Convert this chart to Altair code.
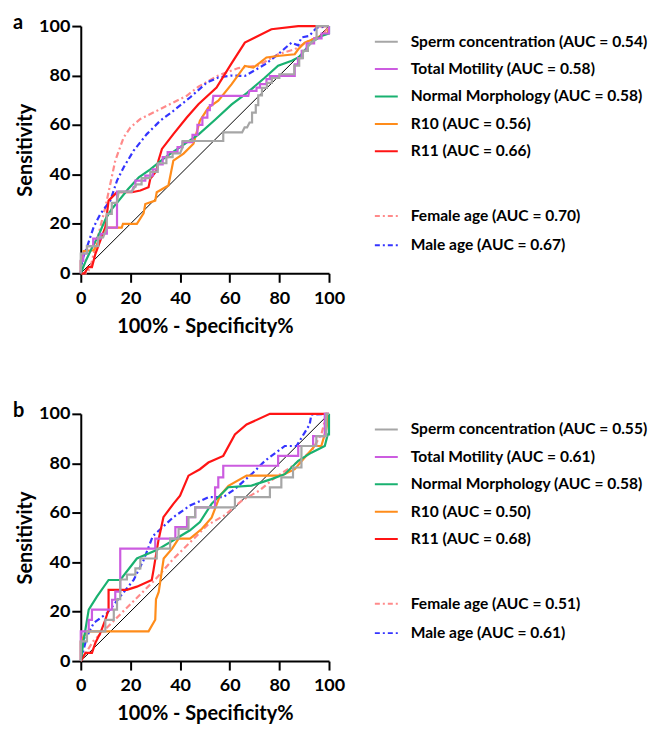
import altair as alt
import pandas as pd

# ---------------- data ----------------
SERIES = ["Sperm concentration", "Total Motility", "Normal Morphology", "R10", "R11",
          "Female age", "Male age"]
COLORS = ["#a6a6a6", "#cc5ce0", "#19b170", "#ff8c1a", "#ff1414", "#ff8a8a", "#3434ff"]
DASHED = [False, False, False, False, False, True, True]

AUC_A = ["0.54", "0.58", "0.58", "0.56", "0.66", "0.70", "0.67"]
AUC_B = ["0.55", "0.61", "0.58", "0.50", "0.68", "0.51", "0.61"]

TICKS = [0, 20, 40, 60, 80, 100]

# Panel a
A_SPERM_X = [0, 0, 2.5, 2.5, 7, 7, 9, 10.5, 10.5, 12.5, 12.5, 14.5, 15.3, 20.5, 22.5, 24.5, 24.5, 28, 28, 31, 31,
             34.5, 34.5, 37, 37, 40, 41, 41, 57.4, 57.4, 65, 66, 67, 68, 69, 69, 70.5, 70.5, 71.5, 71.5, 73, 73, 75,
             75, 77, 77, 80, 80, 86, 86, 88, 88, 89.5, 89.5, 91.5, 91.5, 95, 95, 100]
A_SPERM_Y = [0, 8, 8, 11, 11, 14.5, 14.5, 18.5, 24, 24, 28.5, 28.5, 33, 33, 36, 36, 38.5, 38.5, 41, 41, 44.5,
             44.5, 47, 47, 48.5, 48.5, 51, 53.5, 53.5, 57, 57, 59, 59, 61, 61, 65, 65, 68, 68, 72, 72, 75, 75,
             77, 77, 79, 79, 80.5, 80.5, 84, 84, 87, 87, 90, 90, 92, 95, 100, 100]
A_MOT_X = [0, 0, 1, 1, 2.5, 2.5, 5, 5, 8, 8, 10.5, 10.5, 14.6, 14.6, 20.6, 21.3, 22, 22, 26, 26, 29, 29, 31, 31,
           33, 33, 35, 35, 39, 39, 41, 41, 45, 45, 47, 47, 49, 49, 51, 51, 52, 52, 53, 53.4, 67.5, 67.9, 70.8,
           70.8, 72.2, 72.2, 74.8, 74.8, 76.2, 76.2, 86.2, 86.2, 87.5, 87.5, 89, 89, 91, 91, 94, 94, 97, 97,
           100, 100]
A_MOT_Y = [0, 5, 5, 8, 8, 11, 11, 14, 14, 16, 16, 18.5, 18.5, 33, 33, 35, 35, 37.5, 37.5, 39.5, 39.5, 42, 42, 44,
           44, 47, 47, 49, 49, 51, 51, 53, 53, 56, 56, 60, 60, 63, 63, 66, 66, 68, 68, 71.8, 71.8, 73.8, 73.8,
           75.1, 75.1, 76.5, 76.5, 78.5, 78.5, 79.8, 79.8, 84.5, 84.5, 87, 87, 90, 90, 93, 93, 95, 95, 97, 97,
           100]
A_MORPH_X = [0, 2, 4.7, 7, 10, 12.5, 15.4, 19, 23.4, 28, 34, 40, 47.5, 54, 60.8, 67, 74, 79.5, 85, 88, 93, 97,
             100, 100]
A_MORPH_Y = [0, 5, 10.7, 15, 22, 26, 29.5, 34, 38.8, 42, 46.9, 51, 56.2, 62, 68.3, 73, 79, 84, 86, 87.5, 93.5,
             96, 97, 100]
A_R10_X = [0, 0, 1.2, 5.2, 8, 10.6, 16.5, 17, 22.6, 25.3, 26, 30, 30.6, 35.3, 37.3, 41.4, 45.4, 48, 51.4, 55.4,
           60.8, 66.1, 69.5, 72.2, 74.8, 80.2, 86.2, 87.6, 90.2, 95, 99.6, 100]
A_R10_Y = [0, 5, 9, 9.3, 14, 18.5, 18.5, 20, 20, 24.2, 28, 29.4, 32.8, 35.5, 45.6, 48.4, 52.4, 61.7, 67, 69.8,
           76.5, 83.9, 83.2, 85.2, 87.3, 88, 88.6, 90.6, 93.3, 95.3, 97.3, 100]
A_R11_X = [0, 1.5, 3, 4.5, 5.9, 7.9, 9.9, 11.2, 14.6, 20.6, 24, 27.3, 28, 30.5, 31.3, 32.7, 37.3, 42.7, 47.4,
           54.7, 60.6, 66.1, 76.8, 87.6, 100]
A_R11_Y = [0, 0, 2.5, 2.5, 7.9, 13.3, 18.7, 29.4, 32.8, 32.8, 33.5, 34.8, 38.2, 41.5, 45.6, 50.3, 56.3, 63, 68.4,
           75.1, 84.7, 93.3, 98.7, 100, 100]
A_FEM_X = [0, 2.5, 3.9, 6.5, 9.9, 13.9, 17.3, 20, 24, 32, 37.3, 42.7, 47.4, 55.4, 63.5, 71.5, 79.5, 86.2, 91.6,
           97.6, 100]
A_FEM_Y = [0, 0, 2.5, 13.3, 26.7, 45.6, 55, 59, 62.4, 66.4, 69.1, 71.8, 75.5, 80, 83, 84, 88.6, 90.6, 93.9,
           96.6, 100]
A_MALE_X = [0, 0.5, 2.5, 5.2, 7.9, 11.9, 14.6, 17.3, 21.3, 26.6, 32, 37.3, 44, 50.7, 55.4, 60.8, 66.1, 74.2,
            79.5, 84.9, 87.6, 88.9, 92, 95, 100]
A_MALE_Y = [0, 5.2, 10.6, 18.7, 24, 29.4, 37.5, 42.9, 49.6, 56.3, 61.7, 65.7, 71.1, 77.1, 79.2, 80, 79.8, 84.5,
            88.6, 93.3, 92.2, 95.4, 96, 99.3, 100]

# Panel b
B_SPERM_X = [0, 0, 2.5, 2.5, 9.9, 9.9, 13.3, 13.3, 14.6, 14.6, 15.9, 15.9, 18.6, 18.6, 22, 22, 24, 24, 30.6,
             30.6, 36, 36, 39.4, 39.4, 43.4, 43.4, 46.1, 46.1, 62.1, 62.1, 76.2, 76.2, 80.8, 80.8, 85.5, 85.5,
             88.9, 88.9, 94.9, 94.9, 98.9, 98.9, 100]
B_SPERM_Y = [0, 8, 8, 12, 12, 16.7, 16.7, 20.8, 20.8, 25, 25, 33, 33, 35, 35, 37.5, 37.5, 41.5, 41.5, 45.5, 45.5,
             49.5, 49.5, 53.5, 53.5, 58.2, 58.2, 62.2, 62.2, 66.3, 66.3, 70.3, 70.3, 74.3, 74.3, 78.3, 78.3, 87,
             87, 91, 91, 100, 100]
B_MOT_X = [0, 0, 3.2, 3.2, 4.5, 4.5, 12.6, 12.6, 13.9, 13.9, 15.9, 15.9, 30, 30, 38.1, 38.1, 42.8, 42.8, 46.1,
           46.1, 54.1, 54.1, 55.4, 55.4, 57.4, 57.4, 79.5, 79.5, 87.6, 87.6, 93.6, 93.6, 98.3, 98.3, 100]
B_MOT_Y = [0, 12, 12, 16.7, 16.7, 20.8, 20.8, 24.8, 24.8, 28.1, 28.1, 45.5, 45.5, 49.5, 49.5, 54.2, 54.2, 58.2,
           58.2, 62.2, 62.2, 70.3, 70.3, 74.3, 74.3, 79, 79, 83, 83, 87, 87, 91, 91, 100, 100]
B_MORPH_X = [0, 1.2, 3.2, 6.5, 11.2, 15.9, 22.6, 30.6, 37.3, 44, 48, 52.7, 59.4, 68.8, 76.8, 82.2, 87.6, 92.9,
             98.3, 99.5, 100, 100]
B_MORPH_Y = [0, 8.7, 20.8, 26.1, 32.8, 32.8, 41.5, 44.9, 48.9, 52.9, 56.2, 63.6, 70.3, 71, 73.6, 75.6, 81, 84.3,
             87, 91.7, 91.7, 100]
B_R10_X = [0, 0, 2.5, 27.3, 30, 30.3, 31.4, 33.4, 36.8, 39.4, 44, 48.8, 52.7, 56.1, 59.5, 66.8, 80.8, 86.2,
           90.2, 94.2, 96.9, 98.9, 100]
B_R10_Y = [0, 8, 12, 12, 16.7, 25, 28, 41.5, 45.5, 49.5, 49.5, 53.5, 58, 66.9, 70.9, 75, 75, 77.6, 82.3, 87,
           87, 93.7, 100]
B_R11_X = [0, 1.9, 4.5, 5.9, 7.9, 9.9, 11.2, 11.2, 18.6, 22.6, 28.6, 29.3, 31.3, 33.3, 37.3, 40, 43.4, 48, 51.4,
           57.4, 62.1, 66.8, 76.2, 100]
B_R11_Y = [0, 3.3, 3.3, 7.4, 11.4, 16.7, 20.8, 28.8, 28.8, 30.1, 32.8, 36.8, 48.9, 58.2, 63.6, 66.9, 75, 77.6,
           80.3, 83, 91.7, 95.7, 100, 100]
B_FEM_X = [0, 5, 10, 17, 24, 30, 37, 44, 51, 58, 65, 72, 78, 84, 88, 93, 97, 98, 100]
B_FEM_Y = [0, 8, 13, 20, 27, 33, 41, 48, 55, 59, 65, 69, 74, 78, 81, 85, 92, 96, 100]
B_MALE_X = [0, 2.5, 5.2, 10.6, 15.9, 21.3, 25.3, 29, 37.3, 44, 51.4, 57.4, 62.1, 68.8, 74.2, 82.2, 86.9, 90.2,
            92.2, 92.9, 100]
B_MALE_Y = [0, 10, 15.4, 19.4, 26.1, 32.8, 40.8, 50.5, 58.2, 62.9, 66.3, 66.3, 69.6, 75.6, 81, 87, 87, 92.4,
            95.7, 99.7, 100]

PANEL_A = [(A_SPERM_X, A_SPERM_Y), (A_MOT_X, A_MOT_Y), (A_MORPH_X, A_MORPH_Y), (A_R10_X, A_R10_Y),
           (A_R11_X, A_R11_Y), (A_FEM_X, A_FEM_Y), (A_MALE_X, A_MALE_Y)]
PANEL_B = [(B_SPERM_X, B_SPERM_Y), (B_MOT_X, B_MOT_Y), (B_MORPH_X, B_MORPH_Y), (B_R10_X, B_R10_Y),
           (B_R11_X, B_R11_Y), (B_FEM_X, B_FEM_Y), (B_MALE_X, B_MALE_Y)]

FONT = "Lato"
DASH = [6, 3, 2, 3]
# draw order (back to front)
DRAW_ORDER = [5, 6, 3, 4, 2, 1, 0]


def roc_panel(curves, letter):
    rows = []
    for s, (xs, ys) in enumerate(curves):
        for i, (xv, yv) in enumerate(zip(xs, ys)):
            rows.append({"series": SERIES[s], "idx": i, "x": xv, "y": yv})
    df = pd.DataFrame(rows)

    xenc = alt.X("x:Q", scale=alt.Scale(domain=[0, 100], nice=False),
                 axis=alt.Axis(values=TICKS, title="100% - Specificity%"))
    yenc = alt.Y("y:Q", scale=alt.Scale(domain=[0, 100], nice=False),
                 axis=alt.Axis(values=TICKS, title="Sensitivity"))

    diag = alt.Chart(pd.DataFrame({"x": [0, 100], "y": [0, 100]})).mark_line(
        color="black", strokeWidth=1).encode(x=xenc, y=yenc)
    layers = [diag]
    for s in DRAW_ORDER:
        mk = dict(color=COLORS[s], strokeWidth=2.2)
        if DASHED[s]:
            mk["strokeDash"] = DASH
        layers.append(
            alt.Chart(df).transform_filter(alt.datum.series == SERIES[s]).mark_line(**mk).encode(
                x=xenc, y=yenc, order=alt.Order("idx:Q"))
        )
    tag = alt.Chart(pd.DataFrame({"t": [letter]})).mark_text(
        align="left", baseline="alphabetic", font=FONT, fontWeight="bold", fontSize=20, color="black"
    ).encode(x=alt.value(-68), y=alt.value(3), text="t:N")
    layers.append(tag)
    return alt.layer(*layers).properties(width=249, height=248)


def legend_panel(aucs):
    slots = [0, 1, 2, 3, 4, 6.36, 7.43]
    df = pd.DataFrame({
        "series": SERIES,
        "label": [f"{n} (AUC = {a})" for n, a in zip(SERIES, aucs)],
        "slot": slots,
    })
    yenc = alt.Y("slot:Q", scale=alt.Scale(domain=[-0.57, 8.45], reverse=True, nice=False), axis=None)
    cenc = alt.Color("series:N", scale=alt.Scale(domain=SERIES, range=COLORS), legend=None)
    denc = alt.StrokeDash("series:N", scale=alt.Scale(domain=SERIES,
                                                      range=[[1, 0] if not d else [5, 3, 2, 3] for d in DASHED]),
                          legend=None)
    lines = alt.Chart(df).mark_rule(strokeWidth=2).encode(
        x=alt.value(0), x2=alt.value(23), y=yenc, color=cenc, strokeDash=denc)
    texts = alt.Chart(df).mark_text(align="left", baseline="middle", font=FONT, fontWeight="bold",
                                    fontSize=15.6, color="black").encode(
        x=alt.value(36), y=yenc, text="label:N")
    return alt.layer(lines, texts).properties(width=200, height=248)


chart = alt.ConcatChart(
    concat=[roc_panel(PANEL_A, "a"), legend_panel(AUC_A), roc_panel(PANEL_B, "b"), legend_panel(AUC_B)],
    columns=2, spacing={"row": 141, "column": 46}, bounds="flush",
).properties(
    padding={"left": 5, "top": 4, "right": 0, "bottom": 0}
).configure_view(stroke=None).configure_axis(
    domainColor="black", domainWidth=2, tickColor="black", tickWidth=2, tickSize=9,
    labelFont=FONT, labelFontWeight="bold", labelFontSize=18, labelColor="black", labelFlush=False,
    titleFont=FONT, titleFontWeight="bold", titleFontSize=20, titleColor="black",
    grid=False,
).configure_axisX(labelPadding=7, titlePadding=9).configure_axisY(labelPadding=2, titlePadding=3)

chart.save("out.html", embed_options={"renderer": "svg", "actions": False})
